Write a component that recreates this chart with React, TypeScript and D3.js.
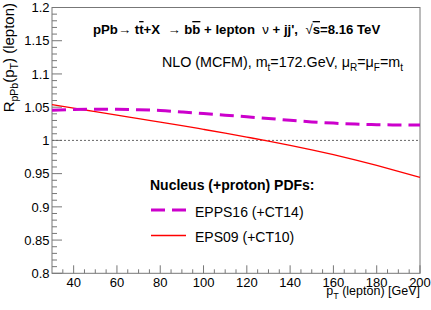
import React, { useEffect, useRef } from 'react';
import * as d3 from 'd3';

const ptValues = [30, 40, 50, 60, 70, 80, 90, 100, 110, 120, 130, 140, 150, 160, 170, 180, 190, 200];
const epps16 = [1.0455, 1.0465, 1.047, 1.0468, 1.0462, 1.045, 1.0428, 1.0405, 1.038, 1.0355, 1.033, 1.0302, 1.0278, 1.026, 1.0245, 1.0237, 1.0232, 1.023];
const eps09 = [1.0537, 1.0485, 1.0433, 1.038, 1.0328, 1.0275, 1.0222, 1.0166, 1.0109, 1.005, 0.999, 0.9926, 0.9858, 0.9785, 0.9707, 0.9623, 0.9535, 0.9442];
const xTicks = [40, 60, 80, 100, 120, 140, 160, 180, 200];
const yTicks = [0.8, 0.85, 0.9, 0.95, 1, 1.05, 1.1, 1.15, 1.2];
const legendLabels = ['EPPS16 (+CT14)', 'EPS09 (+CT10)'];

const FONT = '"Liberation Sans", Arial, Helvetica, sans-serif';

export default function App() {
  const svgRef = useRef<SVGSVGElement>(null);

  useEffect(() => {
    if (!svgRef.current) return;
    d3.select(svgRef.current).selectAll('*').remove();

    const width = 431;
    const height = 310;
    const m = { left: 52, right: 11, top: 7.5, bottom: 36.7 };

    const svg = d3.select(svgRef.current)
      .attr('width', width)
      .attr('height', height)
      .style('font-family', FONT);

    const x = d3.scaleLinear().domain([30, 200]).range([m.left, width - m.right]);
    const y = d3.scaleLinear().domain([0.8, 1.2]).range([height - m.bottom, m.top]);

    const axisCol = '#777';

    // frame
    svg.append('rect')
      .attr('x', m.left)
      .attr('y', m.top)
      .attr('width', width - m.left - m.right)
      .attr('height', height - m.top - m.bottom)
      .attr('fill', 'none')
      .attr('stroke', axisCol)
      .attr('stroke-width', 1);

    // x ticks (inside, ROOT-like)
    const xMinor = d3.range(35, 200, 5).filter(v => v % 20 !== 0);
    svg.append('g').selectAll('line')
      .data(xMinor)
      .enter().append('line')
      .attr('x1', d => x(d)).attr('x2', d => x(d))
      .attr('y1', y(0.8)).attr('y2', y(0.8) - 4)
      .attr('stroke', axisCol);
    svg.append('g').selectAll('line')
      .data(xTicks)
      .enter().append('line')
      .attr('x1', d => x(d)).attr('x2', d => x(d))
      .attr('y1', y(0.8)).attr('y2', y(0.8) - 8)
      .attr('stroke', axisCol);
    svg.append('g').selectAll('text')
      .data(xTicks)
      .enter().append('text')
      .attr('x', d => x(d))
      .attr('y', 287)
      .attr('text-anchor', 'middle')
      .style('font-size', '13px')
      .text(d => String(d));

    // y ticks
    const yMinor = d3.range(0, 41).map(i => 0.8 + i * 0.01).filter((_, i) => i % 5 !== 0);
    svg.append('g').selectAll('line')
      .data(yMinor)
      .enter().append('line')
      .attr('x1', m.left).attr('x2', m.left + 5)
      .attr('y1', d => y(d)).attr('y2', d => y(d))
      .attr('stroke', axisCol);
    svg.append('g').selectAll('line')
      .data(yTicks)
      .enter().append('line')
      .attr('x1', m.left).attr('x2', m.left + 10)
      .attr('y1', d => y(d)).attr('y2', d => y(d))
      .attr('stroke', axisCol);
    svg.append('g').selectAll('text')
      .data(yTicks)
      .enter().append('text')
      .attr('x', m.left - 2.5)
      .attr('y', d => y(d) + 4.7)
      .attr('text-anchor', 'end')
      .style('font-size', '13px')
      .text(d => d3.format('~g')(d));

    // reference line at 1
    svg.append('line')
      .attr('x1', x(30)).attr('x2', x(200))
      .attr('y1', y(1)).attr('y2', y(1))
      .attr('stroke', '#666')
      .attr('stroke-width', 1)
      .attr('stroke-dasharray', '2,2');

    const line = d3.line<number>()
      .x((_, i) => x(ptValues[i]))
      .y(d => y(d))
      .curve(d3.curveMonotoneX);

    svg.append('path')
      .datum(eps09)
      .attr('d', line)
      .attr('fill', 'none')
      .attr('stroke', '#ff0000')
      .attr('stroke-width', 1.3);

    svg.append('path')
      .datum(epps16)
      .attr('d', line)
      .attr('fill', 'none')
      .attr('stroke', '#cc00cc')
      .attr('stroke-width', 3)
      .attr('stroke-dasharray', '14,7');

    // title line
    const t1 = svg.append('text')
      .attr('x', 93)
      .attr('y', 34)
      .style('white-space', 'pre')
      .style('font-size', '13.2px')
      .style('font-weight', 'bold');
    t1.append('tspan').text('pPb\u2192 t');
    t1.append('tspan').style('text-decoration', 'overline').text('t');
    t1.append('tspan').text('+X  \u2192 b');
    t1.append('tspan').style('text-decoration', 'overline').text('b');
    t1.append('tspan').text(' + lepton  ');
    t1.append('tspan').style('font-weight', 'normal').text('\u03bd');
    t1.append('tspan').text(' + jj\',  ');
    t1.append('tspan').style('font-weight', 'normal').text('\u221a');
    t1.append('tspan').style('text-decoration', 'overline').text('s');
    t1.append('tspan').text('=8.16 TeV');

    // second line
    const t2 = svg.append('text')
      .attr('x', 403)
      .attr('y', 67)
      .attr('text-anchor', 'end')
      .style('font-size', '14.3px');
    t2.append('tspan').text('NLO (MCFM), m');
    t2.append('tspan').attr('dy', 4).style('font-size', '10px').text('t');
    t2.append('tspan').attr('dy', -4).text('=172.GeV, \u03bc');
    t2.append('tspan').attr('dy', 4).style('font-size', '10px').text('R');
    t2.append('tspan').attr('dy', -4).text('=\u03bc');
    t2.append('tspan').attr('dy', 4).style('font-size', '10px').text('F');
    t2.append('tspan').attr('dy', -4).text('=m');
    t2.append('tspan').attr('dy', 4).style('font-size', '10px').text('t');

    // legend
    svg.append('text')
      .attr('x', 150)
      .attr('y', 189.5)
      .style('font-size', '14px')
      .style('font-weight', 'bold')
      .text('Nucleus (+proton) PDFs:');

    const legendStyles = [
      { color: '#cc00cc', width: 3, dash: '14,7' },
      { color: '#ff0000', width: 1.3, dash: null as string | null },
    ];
    legendLabels.forEach((lab, i) => {
      const ly = 210 + i * 25.5;
      svg.append('line')
        .attr('x1', 151).attr('x2', 186)
        .attr('y1', ly).attr('y2', ly)
        .attr('stroke', legendStyles[i].color)
        .attr('stroke-width', legendStyles[i].width)
        .attr('stroke-dasharray', legendStyles[i].dash);
      svg.append('text')
        .attr('x', 195)
        .attr('y', ly + 6.7)
        .style('font-size', '14px')
        .text(lab);
    });

    // x-axis title
    const xt = svg.append('text')
      .attr('x', 420)
      .attr('y', 295)
      .attr('text-anchor', 'end')
      .style('font-size', '12.5px');
    xt.append('tspan').text('p');
    xt.append('tspan').attr('dy', 4).style('font-size', '9px').text('T');
    xt.append('tspan').attr('dy', -4).text(' (lepton) [GeV]');

    // y-axis title
    const yt = svg.append('text')
      .attr('transform', 'translate(13.5,3) rotate(-90)')
      .attr('text-anchor', 'end')
      .style('font-size', '15px');
    yt.append('tspan').text('R');
    yt.append('tspan').attr('dy', 4).style('font-size', '10.5px').text('pPb');
    yt.append('tspan').attr('dy', -4).text('(p');
    yt.append('tspan').attr('dy', 4).style('font-size', '10.5px').text('T');
    yt.append('tspan').attr('dy', -4).text(') (lepton)');
  }, []);

  return (
    <div>
      <svg ref={svgRef} style={{ position: 'absolute', left: 0, top: 0 }}></svg>
    </div>
  );
}
